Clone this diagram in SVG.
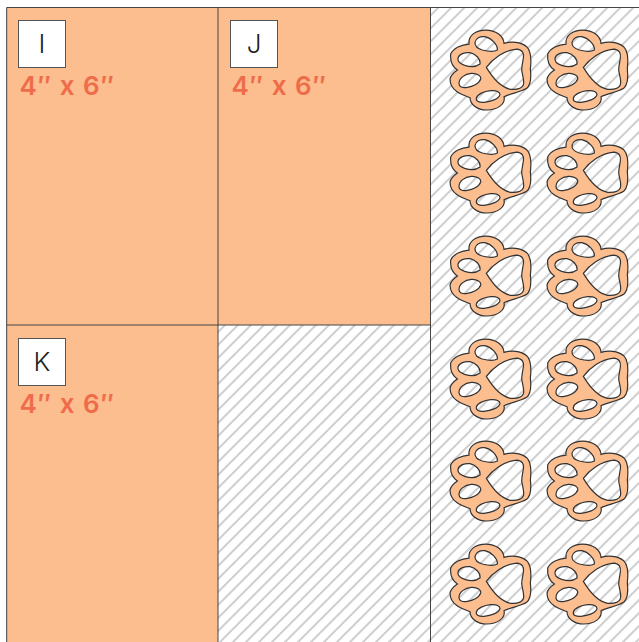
<svg xmlns="http://www.w3.org/2000/svg" width="639" height="642" viewBox="0 0 639 642">
<style>
.bg{fill:url(#hatch)}
.card{fill:#fcbd8f}
.line{fill:none;stroke:#444;stroke-width:1}
.box{fill:#fff;stroke:#555;stroke-width:1}
.id{font-family:"Inter","Liberation Sans",sans-serif;font-weight:300;font-size:26px;fill:#222;text-anchor:middle}
.size{font-family:"Inter","Liberation Sans",sans-serif;font-weight:600;font-size:26px;letter-spacing:1px;fill:#ef6c4a}
.paw{fill:#fcbd8f;stroke:#333;stroke-width:3.6;fill-rule:evenodd}
</style>
<defs>
<pattern id="hatch" width="13" height="13" patternUnits="userSpaceOnUse" patternTransform="translate(4,0)">
<rect width="13" height="13" fill="#fff"/>
<path d="M-3.25,3.25 L3.25,-3.25 M-3.25,16.25 L16.25,-3.25 M9.75,16.25 L16.25,9.75" stroke="#d0d0d0" stroke-width="2" fill="none"/>
</pattern>
<path id="p" class="paw" transform="translate(440.7,20.7) scale(.3333)" d="M85,70 C82,45 105,28 135,28 C165,28 188,45 190,68 C210,62 240,62 258,78 C272,92 272,120 269,145 C272,170 272,190 258,203 C240,215 210,218 190,228 C195,250 170,268 138,268 C108,268 88,250 88,231 C62,222 28,210 28,175 C30,165 40,155 50,148 C35,138 28,120 30,100 C38,82 62,72 85,70 Z M103,65 C105,52 118,46 132,48 C152,52 172,72 170,88 C160,94 140,92 125,88 C112,84 102,76 103,65 Z M52,112 C55,100 72,94 88,96 C106,100 120,115 118,130 C105,140 85,138 72,134 C60,130 50,122 52,112 Z M55,188 C55,172 72,160 92,158 C110,157 122,166 120,175 C115,190 95,198 80,200 C65,203 54,198 55,188 Z M107,232 C110,220 130,212 150,210 C168,208 178,214 178,222 C175,235 150,243 130,245 C115,246 105,242 107,232 Z M137,140 C155,115 190,88 228,85 C245,86 250,98 248,112 C246,125 243,135 243,148 C245,165 252,180 248,192 C243,205 225,207 210,206 C180,200 155,170 137,140 Z"/>
</defs>
<rect width="639" height="642" fill="#fff"/>
<g id="background"><rect class="bg" x="218" y="325" width="213" height="317"/><rect class="bg" x="430" y="7" width="209" height="635"/></g>
<g id="card-I"><rect class="card" x="6.5" y="7.5" width="211.5" height="317.5"/><rect class="box" x="18.5" y="20.5" width="47" height="47"/><text class="id" x="42" y="53">I</text><text class="size" x="19.5" y="95">4″ x 6″</text></g>
<g id="card-J"><rect class="card" x="218" y="7.5" width="212.5" height="317.5"/><rect class="box" x="230.5" y="20.5" width="47" height="47"/><text class="id" x="254" y="53">J</text><text class="size" x="231.5" y="95">4″ x 6″</text></g>
<g id="card-K"><rect class="card" x="6.5" y="325" width="211.5" height="317"/><rect class="box" x="18.5" y="338.5" width="47" height="47"/><text class="id" x="42" y="371">K</text><text class="size" x="19.5" y="413">4″ x 6″</text></g>
<path id="frame" class="line" d="M6.7,7.5H639M6.7,7.5V642M218,7.5V642M430.5,7.5V642M6.7,325H430.5"/>
<g id="paws">
<g id="paw-1"><use href="#p"/></g><g id="paw-2"><use href="#p" transform="translate(97,0)"/></g>
<g id="paw-3"><use href="#p" transform="translate(0,103)"/></g><g id="paw-4"><use href="#p" transform="translate(97,103)"/></g>
<g id="paw-5"><use href="#p" transform="translate(0,206)"/></g><g id="paw-6"><use href="#p" transform="translate(97,206)"/></g>
<g id="paw-7"><use href="#p" transform="translate(0,309)"/></g><g id="paw-8"><use href="#p" transform="translate(97,309)"/></g>
<g id="paw-9"><use href="#p" transform="translate(0,411)"/></g><g id="paw-10"><use href="#p" transform="translate(97,411)"/></g>
<g id="paw-11"><use href="#p" transform="translate(0,514)"/></g><g id="paw-12"><use href="#p" transform="translate(97,514)"/></g>
</g>
</svg>
